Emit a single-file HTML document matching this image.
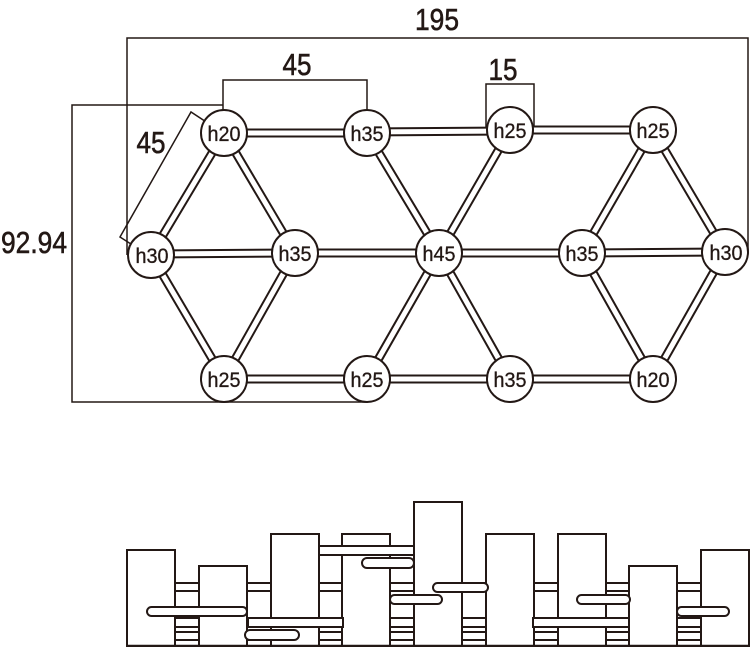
<!DOCTYPE html>
<html><head><meta charset="utf-8"><style>
html,body{margin:0;padding:0;background:#fff;width:750px;height:647px;overflow:hidden}
svg{display:block}
text{font-family:"Liberation Sans",sans-serif;fill:#231815}
</style></head><body>
<svg width="750" height="647" viewBox="0 0 750 647" xmlns="http://www.w3.org/2000/svg">
<g fill="none" stroke="#231815" stroke-width="1.5">
<polyline points="127,255 127,38 748,38 748,252"/>
<polyline points="223,133 223,80 367,80 367,133"/>
<polyline points="486,130 486,84 534,84 534,130"/>
<polyline points="223,105 72,105 72,402 367,402 367,379"/>
<polyline points="145,253 120,237 191,112 223,133"/>
</g>
<g font-size="31" text-anchor="middle" stroke="#231815" stroke-width="0.6">
<text x="437" y="30" textLength="44" lengthAdjust="spacingAndGlyphs">195</text>
<text x="297" y="75" textLength="29" lengthAdjust="spacingAndGlyphs">45</text>
<text x="503" y="80" textLength="29" lengthAdjust="spacingAndGlyphs">15</text>
<text x="151" y="153" textLength="29" lengthAdjust="spacingAndGlyphs">45</text>
<text x="34" y="253" textLength="66" lengthAdjust="spacingAndGlyphs">92.94</text>
</g>
<g stroke="#231815" stroke-width="9">
<line x1="224" y1="133" x2="367" y2="133"/><line x1="367" y1="132" x2="510" y2="131"/><line x1="510" y1="130" x2="653" y2="130"/>
<line x1="151" y1="254" x2="295" y2="253"/><line x1="295" y1="253" x2="439" y2="253"/><line x1="439" y1="253" x2="582" y2="253"/><line x1="582" y1="253" x2="725" y2="252"/>
<line x1="224" y1="379" x2="367" y2="379"/><line x1="367" y1="379" x2="510" y2="379"/><line x1="510" y1="379" x2="653" y2="379"/>
<line x1="224" y1="133" x2="151" y2="255"/><line x1="224" y1="133" x2="295" y2="253"/>
<line x1="151" y1="255" x2="224" y2="379"/><line x1="295" y1="253" x2="224" y2="379"/>
<line x1="367" y1="133" x2="439" y2="253"/><line x1="510" y1="130" x2="439" y2="253"/>
<line x1="439" y1="253" x2="367" y2="379"/><line x1="439" y1="253" x2="510" y2="379"/>
<line x1="653" y1="130" x2="582" y2="253"/><line x1="653" y1="130" x2="725" y2="252"/>
<line x1="582" y1="253" x2="653" y2="379"/><line x1="725" y1="252" x2="653" y2="379"/>
</g>
<g stroke="#fff" stroke-width="5">
<line x1="224" y1="133" x2="367" y2="133"/><line x1="367" y1="132" x2="510" y2="131"/><line x1="510" y1="130" x2="653" y2="130"/>
<line x1="151" y1="254" x2="295" y2="253"/><line x1="295" y1="253" x2="439" y2="253"/><line x1="439" y1="253" x2="582" y2="253"/><line x1="582" y1="253" x2="725" y2="252"/>
<line x1="224" y1="379" x2="367" y2="379"/><line x1="367" y1="379" x2="510" y2="379"/><line x1="510" y1="379" x2="653" y2="379"/>
<line x1="224" y1="133" x2="151" y2="255"/><line x1="224" y1="133" x2="295" y2="253"/>
<line x1="151" y1="255" x2="224" y2="379"/><line x1="295" y1="253" x2="224" y2="379"/>
<line x1="367" y1="133" x2="439" y2="253"/><line x1="510" y1="130" x2="439" y2="253"/>
<line x1="439" y1="253" x2="367" y2="379"/><line x1="439" y1="253" x2="510" y2="379"/>
<line x1="653" y1="130" x2="582" y2="253"/><line x1="653" y1="130" x2="725" y2="252"/>
<line x1="582" y1="253" x2="653" y2="379"/><line x1="725" y1="252" x2="653" y2="379"/>
</g>
<g fill="#fff" stroke="#231815" stroke-width="2">
<circle cx="224" cy="133" r="23"/><circle cx="367" cy="133" r="23"/><circle cx="510" cy="130" r="23"/><circle cx="653" cy="130" r="23"/>
<circle cx="151" cy="255" r="23"/><circle cx="295" cy="253" r="23"/><circle cx="439" cy="253" r="23"/><circle cx="582" cy="253" r="23"/><circle cx="725" cy="252" r="23"/>
<circle cx="224" cy="379" r="23"/><circle cx="367" cy="379" r="23"/><circle cx="510" cy="379" r="23"/><circle cx="653" cy="379" r="23"/>
</g>
<g font-size="21" text-anchor="middle" stroke="#231815" stroke-width="0.3">
<text x="224" y="141" textLength="33" lengthAdjust="spacingAndGlyphs">h20</text>
<text x="367" y="141" textLength="33" lengthAdjust="spacingAndGlyphs">h35</text>
<text x="510" y="138" textLength="33" lengthAdjust="spacingAndGlyphs">h25</text>
<text x="653" y="138" textLength="33" lengthAdjust="spacingAndGlyphs">h25</text>
<text x="152" y="263" textLength="33" lengthAdjust="spacingAndGlyphs">h30</text>
<text x="295" y="261" textLength="33" lengthAdjust="spacingAndGlyphs">h35</text>
<text x="439" y="261" textLength="33" lengthAdjust="spacingAndGlyphs">h45</text>
<text x="582" y="261" textLength="33" lengthAdjust="spacingAndGlyphs">h35</text>
<text x="726" y="260" textLength="33" lengthAdjust="spacingAndGlyphs">h30</text>
<text x="224" y="387" textLength="33" lengthAdjust="spacingAndGlyphs">h25</text>
<text x="367" y="387" textLength="33" lengthAdjust="spacingAndGlyphs">h25</text>
<text x="510" y="387" textLength="33" lengthAdjust="spacingAndGlyphs">h35</text>
<text x="653" y="387" textLength="33" lengthAdjust="spacingAndGlyphs">h20</text>
</g>
<!-- elevation -->
<g fill="#fff" stroke="#231815" stroke-width="2">
<rect x="127" y="583" width="622" height="8"/>
<rect x="127" y="618" width="622" height="9"/>
<rect x="127" y="632" width="622" height="8"/>
<rect x="127" y="550" width="48" height="96"/>
<rect x="199" y="566" width="48" height="80"/>
<rect x="271" y="534" width="48" height="112"/>
<rect x="342" y="534" width="48" height="112"/>
<rect x="414" y="502" width="48" height="144"/>
<rect x="486" y="534" width="48" height="112"/>
<rect x="558" y="534" width="48" height="112"/>
<rect x="629" y="566" width="48" height="80"/>
<rect x="701" y="550" width="48" height="96"/>
<rect x="319" y="546" width="95" height="9"/>
<rect x="147" y="607" width="100" height="9" rx="4.5"/>
<rect x="245" y="630" width="54" height="10" rx="5"/>
<rect x="362" y="558" width="52" height="10" rx="5"/>
<rect x="433" y="583" width="55" height="9" rx="4.5"/>
<rect x="390" y="595" width="52" height="9" rx="4.5"/>
<rect x="577" y="595" width="53" height="9" rx="4.5"/>
<rect x="677" y="607" width="52" height="9" rx="4.5"/>
<rect x="248" y="618" width="95" height="9"/>
<rect x="533" y="618" width="96" height="9"/>
</g>
<line x1="126" y1="646" x2="750" y2="646" stroke="#231815" stroke-width="2.5"/>
</svg>
</body></html>
